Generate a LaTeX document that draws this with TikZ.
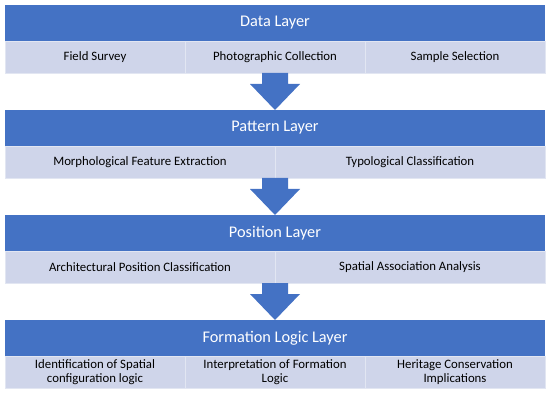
\documentclass[tikz,border=0pt]{standalone}
\usepackage{fontspec}
\setmainfont{Carlito}
\usetikzlibrary{positioning,calc}
\definecolor{layerblue}{HTML}{4472C4}
\definecolor{celltint}{HTML}{CFD5EA}

\begin{document}
\begin{tikzpicture}[
    x = 1pt, y = 1pt,
    node distance = 37pt,
    layer/.style = {
        rectangle,
        fill=layerblue,
        text=white,
        font=\fontsize{16.3}{19}\selectfont,
        minimum width=540pt,
        minimum height=36pt,
        inner sep=0pt,
        outer sep=0pt
    },
    cell/.style = {
        rectangle,
        fill=celltint,
        draw=white!40!celltint,
        line width=0.6pt,
        text=black,
        font=\fontsize{12.8}{13.8}\selectfont,
        align=center,
        minimum height=32pt,
        inner sep=0pt,
        outer sep=0pt
    },
    cellthird/.style = {cell, minimum width=180pt},
    cellhalf/.style = {cell, minimum width=270pt},
    blockarrow/.style = {
        fill=layerblue,
        to path={($(\tikztostart)+(-13,0)$) -- ($(\tikztostart)+(13,0)$)
            -- ($(\tikztotarget)+(13,26)$) -- ($(\tikztotarget)+(25,26)$)
            -- (\tikztotarget) -- ($(\tikztotarget)+(-25,26)$)
            -- ($(\tikztotarget)+(-13,26)$) -- cycle}
    }
]
\useasboundingbox (0,0) rectangle (550,-396);

% data layer
\node[layer, anchor=north] (data) at (275,-5) {Data Layer};
\node[cellthird, anchor=north west] (survey) at (data.south west) {Field Survey};
\node[cellthird, right=0pt of survey] (photo) {Photographic Collection};
\node[cellthird, right=0pt of photo] (sample) {Sample Selection};

% pattern layer
\node[layer, below=of photo] (pattern) {Pattern Layer};
\node[cellhalf, anchor=north west] (morph) at (pattern.south west) {Morphological Feature Extraction};
\node[cellhalf, right=0pt of morph] (typo) {Typological Classification};

% position layer
\node[layer, below=of morph.south east] (position) {Position Layer};
\node[cellhalf, anchor=north west] (archpos) at (position.south west) {Architectural Position Classification};
\node[cellhalf, right=0pt of archpos] (assoc) {Spatial Association Analysis};

% formation logic layer
\node[layer, below=of archpos.south east] (logic) {Formation Logic Layer};
\node[cellthird, anchor=north west] (ident) at (logic.south west) {Identification of Spatial\\configuration logic};
\node[cellthird, right=0pt of ident] (interp) {Interpretation of Formation\\Logic};
\node[cellthird, right=0pt of interp] (heritage) {Heritage Conservation\\Implications};

\path[blockarrow] (photo.south) to (pattern.north);
\path[blockarrow] (morph.south east) to (position.north);
\path[blockarrow] (archpos.south east) to (logic.north);

\end{tikzpicture}
\end{document}
